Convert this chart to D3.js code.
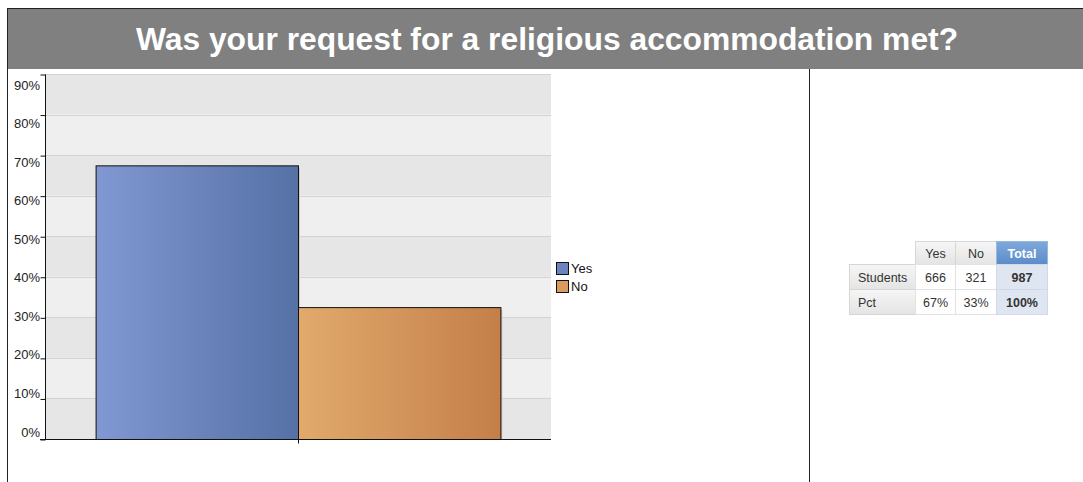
<!DOCTYPE html>
<html>
<head>
<meta charset="utf-8">
<script src="https://cdn.jsdelivr.net/npm/d3@7"></script>
<style>
  html, body { margin: 0; padding: 0; background: #fff; }
  svg { display: block; font-family: Arial, "Liberation Sans", sans-serif; }
</style>
</head>
<body>
<svg id="chart" width="1083" height="482"></svg>
<script>
const title = "Was your request for a religious accommodation met?";
const categories = ["Yes", "No"];
const students = [666, 321];
const totalStudents = 987;
const pctLabels = ["67%", "33%", "100%"];
const yTicks = [0, 0.1, 0.2, 0.3, 0.4, 0.5, 0.6, 0.7, 0.8, 0.9];
const tableColumns = ["Yes", "No", "Total"];
const tableRows = ["Students", "Pct"];

const svg = d3.select("#chart");
const defs = svg.append("defs");

function grad(id, c1, c2) {
  const g = defs.append("linearGradient").attr("id", id)
    .attr("x1", "0%").attr("x2", "100%").attr("y1", "0%").attr("y2", "0%");
  g.append("stop").attr("offset", "0%").attr("stop-color", c1);
  g.append("stop").attr("offset", "100%").attr("stop-color", c2);
}
function vgrad(id, c1, c2) {
  const g = defs.append("linearGradient").attr("id", id)
    .attr("x1", "0%").attr("x2", "0%").attr("y1", "0%").attr("y2", "100%");
  g.append("stop").attr("offset", "0%").attr("stop-color", c1);
  g.append("stop").attr("offset", "100%").attr("stop-color", c2);
}
grad("gYes", "#8198d2", "#5571a6");
grad("gNo", "#e1aa6c", "#c47f49");
vgrad("gHead", "#f6f6f6", "#e4e4e4");
vgrad("gTotal", "#7ea9dc", "#5b8cc8");

// Header band
svg.append("rect").attr("x", 7).attr("y", 8).attr("width", 1083).attr("height", 61)
  .attr("fill", "#808080");
svg.append("line").attr("x1", 7).attr("x2", 1083).attr("y1", 8.5).attr("y2", 8.5)
  .attr("stroke", "#222").attr("stroke-width", 1);
svg.append("line").attr("x1", 7.5).attr("x2", 7.5).attr("y1", 8).attr("y2", 482)
  .attr("stroke", "#222").attr("stroke-width", 1);
svg.append("line").attr("x1", 809.5).attr("x2", 809.5).attr("y1", 69).attr("y2", 482)
  .attr("stroke", "#222").attr("stroke-width", 1);
svg.append("text").attr("x", 547).attr("y", 50).attr("text-anchor", "middle")
  .attr("fill", "#fff").attr("font-weight", "bold").attr("font-size", 31.8)
  .text(title);

// Scales
const x = d3.scaleBand().domain(categories).range([45, 551]).paddingInner(0).paddingOuter(0.25);
const y = d3.scaleLinear().domain([0, 0.9]).range([439, 74]);
const yLabel = d3.scaleLinear().domain([0, 0.9]).range([432, 85]);

// Bands
const g = svg.append("g");
g.selectAll("rect.band").data(yTicks.slice(0, -1)).join("rect")
  .attr("x", 45).attr("width", 506)
  .attr("y", d => y(d + 0.1)).attr("height", d => y(d) - y(d + 0.1))
  .attr("fill", (d, i) => i % 2 === 0 ? "#e6e6e6" : "#efefef");
g.selectAll("line.grid").data(yTicks.slice(1)).join("line")
  .attr("x1", 45).attr("x2", 551)
  .attr("y1", d => Math.round(y(d)) + 0.5).attr("y2", d => Math.round(y(d)) + 0.5)
  .attr("stroke", "#d3d3d3");

// Bars
const vals = students.map(v => v / totalStudents);
g.selectAll("rect.shadow").data(categories).join("rect")
  .attr("x", d => x(d) + 2).attr("width", x.bandwidth())
  .attr("y", (d, i) => y(vals[i]) + 3).attr("height", (d, i) => y(0) - y(vals[i]) - 3)
  .attr("fill", "#cfcfcf");
g.selectAll("rect.bar").data(categories).join("rect")
  .attr("x", d => x(d) + 0.5).attr("width", x.bandwidth())
  .attr("y", (d, i) => y(vals[i]) + 0.5).attr("height", (d, i) => y(0) - y(vals[i]))
  .attr("fill", (d, i) => i === 0 ? "url(#gYes)" : "url(#gNo)")
  .attr("stroke", "#111").attr("stroke-width", 1);

// Y axis (ticks)
const yAxis = svg.append("g").attr("transform", "translate(45.5,0.5)")
  .call(d3.axisLeft(y).tickValues(yTicks).tickFormat("").tickSize(5));
yAxis.select(".domain").attr("stroke", "#111").attr("d", "M0,74V439");
yAxis.selectAll(".tick line").attr("stroke", "#111");
// Y tick labels
svg.append("g").selectAll("text").data(yTicks).join("text")
  .attr("x", 40).attr("y", d => yLabel(d))
  .attr("dy", "0.35em").attr("text-anchor", "end")
  .attr("font-size", 13).attr("fill", "#222")
  .text(d3.format(".0%"));

// X axis
const xAxis = svg.append("g").attr("transform", "translate(0,439.5)");
xAxis.append("line").attr("x1", 40).attr("x2", 551).attr("stroke", "#111");
xAxis.selectAll("line.xt").data([categories[1]]).join("line")
  .attr("x1", d => Math.round(x(d)) + 0.5).attr("x2", d => Math.round(x(d)) + 0.5)
  .attr("y1", 0).attr("y2", 4).attr("stroke", "#111");

// Legend
const leg = svg.append("g").attr("transform", "translate(556,262)");
const li = leg.selectAll("g").data(categories).join("g")
  .attr("transform", (d, i) => `translate(0,${i * 18})`);
li.append("rect").attr("x", 0.5).attr("y", 0.5).attr("width", 12).attr("height", 12)
  .attr("fill", (d, i) => i === 0 ? "#6b84bf" : "#d99b60").attr("stroke", "#111");
li.append("text").attr("x", 15).attr("y", 10.5).attr("font-size", 13).attr("fill", "#111").text(d => d);

// Table
const colX = [849, 915, 955, 996, 1047];
const rowY = [241, 264, 289, 314];
const tbl = svg.append("g");
function cell(x0, x1, y0, y1, fill, text, opts = {}) {
  tbl.append("rect").attr("x", x0 + 0.5).attr("y", y0 + 0.5)
    .attr("width", x1 - x0).attr("height", y1 - y0)
    .attr("fill", fill).attr("stroke", opts.stroke || "#d6d6d6");
  if (text !== undefined) {
    tbl.append("text")
      .attr("x", opts.left ? x0 + 9 : (x0 + x1) / 2 + 0.5)
      .attr("y", (y0 + y1) / 2 + 5)
      .attr("text-anchor", opts.left ? "start" : "middle")
      .attr("font-size", 12.5)
      .attr("font-weight", opts.bold ? "bold" : "normal")
      .attr("fill", opts.color || "#333")
      .text(text);
  }
}
tableColumns.forEach((c, i) => {
  const isTotal = i === tableColumns.length - 1;
  cell(colX[i + 1], colX[i + 2], rowY[0], rowY[1],
    isTotal ? "url(#gTotal)" : "url(#gHead)", c,
    { bold: isTotal, color: isTotal ? "#fff" : "#333", stroke: isTotal ? "#9ab8dc" : "#d6d6d6" });
});
const rowVals = [
  [...students.map(String), String(totalStudents)],
  pctLabels
];
tableRows.forEach((r, ri) => {
  cell(colX[0], colX[1], rowY[ri + 1], rowY[ri + 2], "url(#gHead)", r, { left: true });
  rowVals[ri].forEach((v, ci) => {
    const isTotal = ci === rowVals[ri].length - 1;
    cell(colX[ci + 1], colX[ci + 2], rowY[ri + 1], rowY[ri + 2],
      isTotal ? "#dfe6f1" : "#fff", v,
      { bold: isTotal, stroke: isTotal ? "#cfd9e8" : "#e2e2e2" });
  });
});
</script>
</body>
</html>
